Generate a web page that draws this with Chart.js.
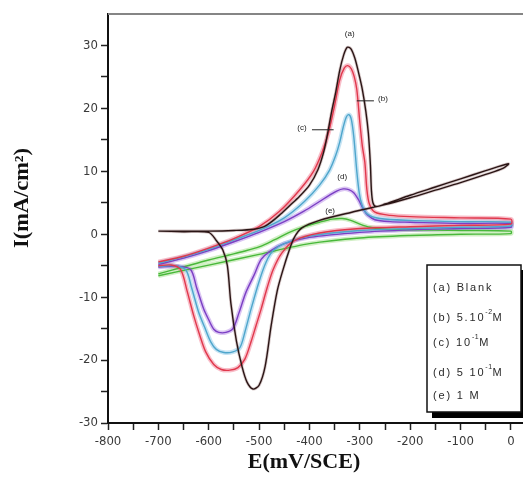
<!DOCTYPE html>
<html>
<head>
<meta charset="utf-8">
<script src="https://cdn.jsdelivr.net/npm/chart.js@4.4.1/dist/chart.umd.min.js"></script>
<style>
html,body{margin:0;padding:0;background:#fff;}
#wrap{width:523px;height:480px;}
</style>
</head>
<body>
<div id="wrap"><canvas id="c" width="523" height="480"></canvas></div>
<script>
// ---- Data (E in mV/SCE, I in mA/cm2), each loop: forward scan then reverse scan ----
const blankE = [-700,-650,-600,-550,-510,-490,-475,-460,-440,-420,-400,-383,-372,-364,-356,-348,-340,-332,-325,-318,-310,-302,-295,-288,-283,-279,-277,-274,-268,-250,-200,-150,-100,-50,-5,
  -15,-50,-100,-150,-200,-250,-316,-380,-415,-430,-440,-452,-464,-476,-488,-500,-512,-524,-534,-545,-556,-563,-572,-585,-600,-650,-700];
const blankI = [0.5,0.5,0.5,0.6,0.8,1.2,2.0,3.0,4.5,6.0,7.8,10.3,13,16,19.5,22.5,26,28.5,29.7,29.5,28,25.5,23,19.5,16,11,7,5,4.4,4.8,6.2,7.5,8.8,10.1,11.2,
  10.5,9.5,8.2,7.0,5.8,4.7,3.5,2.2,1.0,-0.5,-2.5,-5.5,-9,-14.5,-21,-24,-24.6,-23.5,-21,-17,-11,-5,-2.5,-1.0,0.3,0.4,0.5];

const b5E = [-700,-650,-600,-550,-500,-460,-420,-392,-375,-362,-350,-340,-331,-324,-317,-311,-306,-300,-295,-290,-286,-281,-270,-240,-200,-100,0,
  0,-100,-200,-300,-380,-430,-455,-472,-484,-496,-506,-516,-528,-542,-558,-575,-590,-606,-618,-630,-643,-656,-675,-700];
const b5I = [-4.4,-3.5,-2.2,-0.7,1.2,3.6,7.0,10.0,13.0,16.2,20.5,24.5,26.4,26.8,26.3,25,23,17.8,14,11.4,7.1,4.8,3.5,3.0,2.8,2.6,2.4,
  1.6,1.4,1.2,0.9,0.2,-1.0,-3.0,-5.6,-8.5,-11.9,-14.5,-17.1,-19.8,-21.2,-21.6,-21.5,-20.7,-18.7,-16,-12.9,-9,-5.6,-4.9,-5.0];

const c1E = [-700,-650,-600,-550,-500,-450,-410,-380,-360,-348,-340,-333,-327,-322,-317,-312,-306,-301,-295,-285,-260,-200,-100,0,
  0,-100,-200,-300,-400,-450,-472,-486,-500,-516,-528,-538,-552,-570,-585,-596,-608,-620,-634,-646,-670,-700];
const c1I = [-4.6,-3.6,-2.4,-0.9,0.6,2.6,5.2,7.8,10.2,12.5,14.6,17,18.6,19,18.3,15.5,10,6.5,4.5,3.2,2.5,2.2,2.0,1.9,
  1.3,1.1,0.9,0.6,-0.3,-1.5,-2.6,-4.4,-7.5,-11.9,-15.5,-18,-18.7,-18.8,-18.3,-17.1,-14.8,-12.4,-8.5,-5.6,-5,-5.1];

const d5E = [-700,-650,-600,-550,-500,-450,-410,-380,-360,-345,-333,-322,-312,-302,-293,-284,-270,-240,-200,-100,0,
  0,-100,-200,-300,-400,-450,-480,-496,-510,-526,-540,-552,-566,-580,-590,-600,-610,-624,-636,-660,-700];
const d5I = [-4.8,-3.8,-2.6,-1.2,0.3,2.0,3.7,5.2,6.2,6.9,7.2,7.1,6.6,5.4,4.0,3.0,2.3,2.0,1.9,1.7,1.7,
  1.1,0.9,0.7,0.3,-0.5,-1.5,-2.8,-4.0,-6.5,-9.2,-12.5,-15,-15.6,-15.6,-15.1,-13.6,-11.9,-8.5,-5.6,-5.1,-5.2];

const e1E = [-700,-650,-600,-560,-530,-500,-470,-440,-410,-380,-355,-335,-318,-300,-280,-250,-200,-100,0,
  0,-100,-200,-300,-400,-500,-600,-700];
const e1I = [-6.3,-5.2,-4.1,-3.3,-2.7,-2.0,-0.9,0.3,1.2,1.9,2.4,2.5,2.2,1.6,1.1,0.8,0.7,0.6,0.5,
  0.1,0.0,-0.2,-0.6,-1.5,-3.2,-4.9,-6.6];

const seriesNames = ['(a) Blank','(b) 5.10-2M','(c) 10-1M','(d) 5 10-1M','(e) 1 M'];
const xTicks = [-800,-700,-600,-500,-400,-300,-200,-100,0];
const yTicks = [-30,-20,-10,0,10,20,30];
// curve labels: [text, E, I]
const curveLabels = [['(a)',-320,31.8],['(b)',-254,21.6],['(c)',-415,16.9],['(d)',-335,9.1],['(e)',-359,3.8]];

function pts(E,I){ return E.map((e,i)=>({x:e,y:I[i]})); }

const styles = [
  {core:'#2a1515', halo:'rgba(110,60,60,0.28)'},
  {core:'#e0384c', halo:'rgba(240,110,135,0.45)'},
  {core:'#4fa6cc', halo:'rgba(110,185,225,0.40)'},
  {core:'#7b3fc4', halo:'rgba(165,110,225,0.40)'},
  {core:'#48b83a', halo:'rgba(140,215,110,0.40)'}
];
const all = [[blankE,blankI],[b5E,b5I],[c1E,c1I],[d5E,d5I],[e1E,e1I]];

const datasets = [];
all.forEach((s,k)=>{
  datasets.push({label:seriesNames[k], data:pts(s[0],s[1]), showLine:true, borderColor:styles[k].core,
    borderWidth:1.4, pointRadius:0, tension:0.3, fill:false, order:k});
});
all.forEach((s,k)=>{
  datasets.push({label:seriesNames[k]+' halo', data:pts(s[0],s[1]), showLine:true, borderColor:styles[k].halo,
    borderWidth:k===0?3:4.5, pointRadius:0, tension:0.3, fill:false, order:10+k});
});

const tickFont = {family:'"Liberation Sans Narrow", "DejaVu Sans Condensed", "Liberation Sans", sans-serif', size:13};

const decor = {
  id:'decor',
  afterDraw(chart){
    const ctx = chart.ctx, ca = chart.chartArea, xs = chart.scales.x, ys = chart.scales.y;
    ctx.save();
    // top border
    ctx.strokeStyle = '#858585'; ctx.lineWidth = 2;
    ctx.beginPath(); ctx.moveTo(ca.left, ca.top); ctx.lineTo(523, ca.top); ctx.stroke();
    // extend x axis line to the edge
    ctx.strokeStyle = '#111';
    ctx.beginPath(); ctx.moveTo(ca.right, ca.bottom); ctx.lineTo(523, ca.bottom); ctx.stroke();
    // curve labels
    ctx.fillStyle = '#222'; ctx.font = '8px "Liberation Sans", Arial, sans-serif';
    ctx.textAlign = 'center'; ctx.textBaseline = 'middle';
    curveLabels.forEach(l=>{ ctx.fillText(l[0], xs.getPixelForValue(l[1]), ys.getPixelForValue(l[2])); });
    // leader lines for (b) and (c)
    ctx.strokeStyle = '#222'; ctx.lineWidth = 1;
    ctx.beginPath();
    ctx.moveTo(xs.getPixelForValue(-306), ys.getPixelForValue(21.2)); ctx.lineTo(xs.getPixelForValue(-272), ys.getPixelForValue(21.2));
    ctx.moveTo(xs.getPixelForValue(-395), ys.getPixelForValue(16.6)); ctx.lineTo(xs.getPixelForValue(-352), ys.getPixelForValue(16.6));
    ctx.stroke();
    // axis titles
    ctx.fillStyle = '#111';
    ctx.font = 'bold 20px "Liberation Serif", "Times New Roman", serif';
    ctx.textAlign = 'center'; ctx.textBaseline = 'middle';
    ctx.save(); ctx.translate(304, 463); ctx.scale(1.1, 1); ctx.fillText('E(mV/SCE)', 0, 0); ctx.restore();
    ctx.save(); ctx.translate(23, 198); ctx.rotate(-Math.PI/2); ctx.scale(1.12, 1);
    ctx.fillText('I(mA/cm²)', 0, 0); ctx.restore();
    // legend box
    ctx.fillStyle = '#fff'; ctx.fillRect(427, 265, 94, 147);
    ctx.fillStyle = '#000'; ctx.fillRect(432, 412, 91, 6); ctx.fillRect(521, 270, 2, 148);
    ctx.strokeStyle = '#111'; ctx.lineWidth = 1.5; ctx.strokeRect(427, 265, 94, 147);
    ctx.fillStyle = '#2a2a2a'; ctx.textAlign = 'left'; ctx.textBaseline = 'alphabetic';
    const f = '11px "Liberation Sans", Arial, sans-serif', fs = '7px "Liberation Sans", Arial, sans-serif';
    const rows = [
      [['(a) Blank',0]],
      [['(b) 5.10',0],['-2',1],['M',0]],
      [['(c) 10',0],['-1',1],['M',0]],
      [['(d) 5 10',0],['-1',1],['M',0]],
      [['(e) 1 M',0]]
    ];
    const ysRow = [291, 321, 346, 376, 399];
    rows.forEach((r,i)=>{
      let x = 433;
      r.forEach(p=>{
        ctx.font = p[1] ? fs : f;
        if ('letterSpacing' in ctx) ctx.letterSpacing = p[1] ? '0.5px' : '1.8px';
        const yy = p[1] ? ysRow[i]-7 : ysRow[i];
        ctx.fillText(p[0], x, yy);
        x += ctx.measureText(p[0]).width;
      });
    });
    ctx.restore();
  }
};

new Chart(document.getElementById('c'), {
  type:'scatter',
  data:{datasets},
  options:{
    responsive:false, animation:false,
    layout:{padding:{top:14,right:2,left:0,bottom:0}},
    plugins:{legend:{display:false}, tooltip:{enabled:false}},
    scales:{
      x:{type:'linear', min:-800, max:20,
        afterFit(s){ s.height = 57; },
        border:{color:'#111', width:2},
        grid:{drawOnChartArea:false, drawTicks:true, tickLength:7, tickWidth:1.5,
          tickColor:(c)=> (c.tick && c.tick.value<=0) ? '#222' : 'rgba(0,0,0,0)'},
        ticks:{stepSize:50, includeBounds:false, maxRotation:0, autoSkip:false, padding:4, color:'#3a3a3a',
          font:tickFont,
          callback:(v)=> xTicks.includes(v) ? String(v) : ''}
      },
      y:{type:'linear', min:-30, max:35,
        afterFit(s){ s.width = 108; },
        border:{color:'#111', width:2},
        grid:{drawOnChartArea:false, drawTicks:true, tickLength:7, tickWidth:1.5,
          tickColor:(c)=> (c.tick && c.tick.value<=30) ? '#222' : 'rgba(0,0,0,0)'},
        ticks:{stepSize:5, autoSkip:false, padding:3, color:'#3a3a3a',
          font:tickFont,
          callback:(v)=> yTicks.includes(v) ? String(v) : ''}
      }
    }
  },
  plugins:[decor]
});
</script>
</body>
</html>
